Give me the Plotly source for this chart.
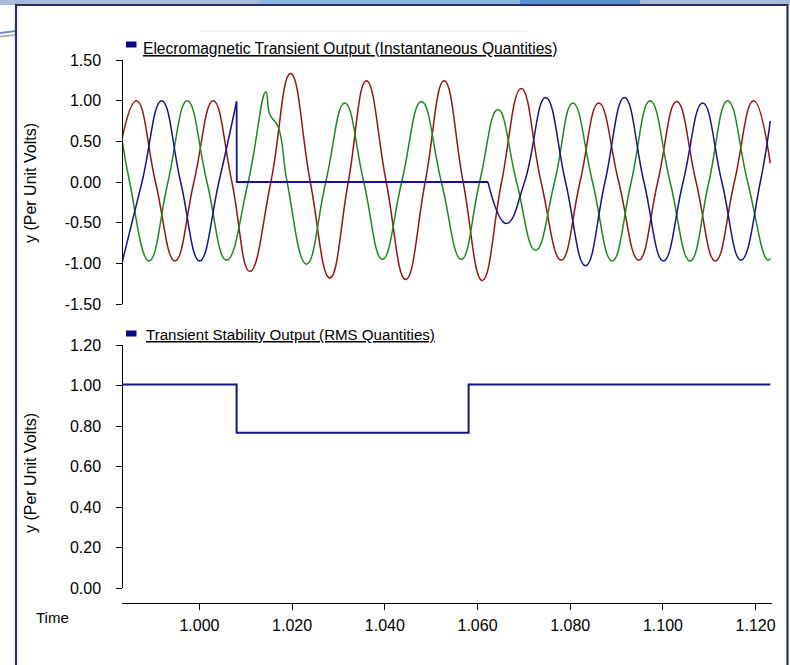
import plotly.graph_objects as go

W, H = 790, 665

# ---------------- data ----------------
# Phase A (blue): before fault, during fault (zero), after clearing
blue_pre_t = [0.98336, 0.98761, 0.99185, 0.99595, 1.00004, 1.00420, 1.00802]
blue_pre_v = [-0.98, 0.0, 1.00, 0.0, -0.97, 0.0, 0.99]
blue_flt_t = [1.00802, 1.00806, 1.06224]
blue_flt_v = [0.99, 0.0, 0.0]
blue_post_t = [1.06224, 1.06621, 1.07015, 1.07468, 1.07899, 1.08330, 1.08750,
               1.09170, 1.09591, 1.10011, 1.10435, 1.10858, 1.11272, 1.11685,
               1.12101, 1.12317]
blue_post_v = [0.0, -0.51, 0.0, 1.04, 0.0, -1.03, 0.0, 1.04, 0.0, -0.97, 0.0,
               0.97, 0.0, -0.96, 0.0, 0.75]

# Phase B (red)
red_t = [0.98336, 0.98642, 0.99052, 0.99472, 0.99881, 1.00297, 1.00700, 1.01088,
         1.01541, 1.01966, 1.02392, 1.02813, 1.03211, 1.03603, 1.04030, 1.04450,
         1.04871, 1.05280, 1.05690, 1.06103, 1.06519, 1.06944, 1.07371, 1.07806,
         1.08211, 1.08616, 1.09047, 1.09478, 1.09888, 1.10297, 1.10716, 1.11131,
         1.11541, 1.11957, 1.12317]
red_v = [0.55, 1.00, 0.0, -0.97, 0.0, 1.00, 0.0, -1.10, 0.0, 1.335, 0.0, -1.18,
         0.0, 1.245, 0.0, -1.20, 0.0, 1.245, 0.0, -1.21, 0.0, 1.15, 0.0, -0.96,
         0.0, 0.97, 0.0, -0.96, 0.0, 0.99, 0.0, -0.97, 0.0, 1.00, 0.23]

# Phase C (green)
green_t = [0.98336, 0.98494, 0.98912, 0.99321, 0.99737, 1.00162, 1.00586, 1.01052,
           1.01433, 1.01519, 1.01698, 1.01892, 1.02310, 1.02726, 1.03136, 1.03545,
           1.03948, 1.04364, 1.04789, 1.05220, 1.05651, 1.06045, 1.06440, 1.06843,
           1.07252, 1.07662, 1.08056, 1.08481, 1.08905, 1.09315, 1.09724, 1.10155,
           1.10586, 1.10991, 1.11397, 1.11828, 1.12259, 1.12317]
green_v = [0.50, 0.0, -0.97, 0.0, 1.00, 0.0, -0.96, 0.0, 1.11, 0.83, 0.68, 0.0,
           -1.01, 0.0, 0.97, 0.0, -0.95, 0.0, 0.99, 0.0, -0.95, 0.0, 0.89, 0.0,
           -0.84, 0.0, 0.97, 0.0, -0.97, 0.0, 1.00, 0.0, -0.97, 0.0, 1.00, 0.0,
           -0.96, -0.94]

# RMS (transient stability) output
rms_t = [0.98336, 1.00802, 1.00802, 1.05808, 1.05808, 1.12317]
rms_v = [1.005, 1.005, 0.767, 0.767, 1.005, 1.005]

# ticks
top_tickvals = [1.5, 1.0, 0.5, 0.0, -0.5, -1.0, -1.5]
top_ticktext = ["1.50", "1.00", "0.50", "0.00", "-0.50", "-1.00", "-1.50"]
bot_tickvals = [1.2, 1.0, 0.8, 0.6, 0.4, 0.2, 0.0]
bot_ticktext = ["1.20", "1.00", "0.80", "0.60", "0.40", "0.20", "0.00"]
x_tickvals = [1.00, 1.02, 1.04, 1.06, 1.08, 1.10, 1.12]
x_ticktext = ["1.000", "1.020", "1.040", "1.060", "1.080", "1.100", "1.120"]

legend_top = "Elecromagnetic Transient Output (Instantaneous Quantities)"
legend_bot = "Transient Stability Output (RMS Quantities)"
y_title = "y (Per Unit Volts)"
x_title = "Time"

# ---------------- figure ----------------
BLUE = "#14148c"
RED = "#961414"
GREEN = "#1a8a1a"
FONT = "Liberation Sans, Arial, sans-serif"

def px(x):
    return x / W

def py(y):
    return 1 - y / H

fig = go.Figure()

SM = 1.3
wave = dict(xaxis="x", yaxis="y", mode="lines", showlegend=False, hoverinfo="skip")
fig.add_trace(go.Scatter(x=red_t, y=red_v, line=dict(color=RED, width=1.5, shape="spline", smoothing=SM), **wave))
fig.add_trace(go.Scatter(x=green_t, y=green_v, line=dict(color=GREEN, width=1.5, shape="spline", smoothing=SM), **wave))
fig.add_trace(go.Scatter(x=blue_pre_t, y=blue_pre_v, line=dict(color=BLUE, width=1.5, shape="spline", smoothing=SM), **wave))
fig.add_trace(go.Scatter(x=blue_flt_t, y=blue_flt_v, line=dict(color=BLUE, width=1.8), **wave))
fig.add_trace(go.Scatter(x=blue_post_t, y=blue_post_v, line=dict(color=BLUE, width=1.5, shape="spline", smoothing=SM), **wave))

fig.add_trace(go.Scatter(x=rms_t, y=rms_v, xaxis="x2", yaxis="y2", mode="lines",
                         line=dict(color=BLUE, width=2), showlegend=False, hoverinfo="skip"))

XR = [0.98336, 1.12347]
XDOM = [px(122.3), px(771.7)]
tickfont = dict(family=FONT, size=16, color="black")

fig.update_layout(
    width=W, height=H,
    margin=dict(l=0, r=0, t=0, b=0, autoexpand=False),
    paper_bgcolor="white", plot_bgcolor="white",
    xaxis=dict(domain=XDOM, range=XR, anchor="y", visible=False),
    yaxis=dict(domain=[py(304), py(60)], range=[-1.5, 1.5], anchor="free", position=XDOM[0],
               tickvals=top_tickvals, ticktext=top_ticktext, ticks="outside", ticklen=6,
               tickcolor="black", showline=True, linecolor="black", linewidth=1,
               showgrid=False, zeroline=False, tickfont=tickfont, ticklabelstandoff=12),
    xaxis2=dict(domain=XDOM, range=XR, anchor="free", position=py(603),
                tickvals=x_tickvals, ticktext=x_ticktext, ticks="outside", ticklen=6,
                tickcolor="black", showline=True, linecolor="black", linewidth=1,
                showgrid=False, zeroline=False, tickfont=tickfont, ticklabelstandoff=2),
    yaxis2=dict(domain=[py(588), py(345)], range=[0, 1.2], anchor="free", position=XDOM[0],
                tickvals=bot_tickvals, ticktext=bot_ticktext, ticks="outside", ticklen=6,
                tickcolor="black", showline=True, linecolor="black", linewidth=1,
                showgrid=False, zeroline=False, tickfont=tickfont, ticklabelstandoff=12),
)

shapes = []
# slide decoration: top band
shapes.append(dict(type="rect", xref="paper", yref="paper", x0=0, x1=1, y0=py(5), y1=1,
                   fillcolor="#a6bcd8", line=dict(width=0), layer="above"))
shapes.append(dict(type="rect", xref="paper", yref="paper", x0=px(260), x1=px(520), y0=py(5), y1=1,
                   fillcolor="#8cb6e6", line=dict(width=0), layer="above"))
shapes.append(dict(type="rect", xref="paper", yref="paper", x0=px(520), x1=px(640), y0=py(5), y1=1,
                   fillcolor="#5a8fcf", line=dict(width=0), layer="above"))
# left swooshes outside the frame
shapes.append(dict(type="line", xref="paper", yref="paper", x0=0, x1=px(16), y0=py(33), y1=py(31),
                   line=dict(color="#6d8fc8", width=2)))
shapes.append(dict(type="line", xref="paper", yref="paper", x0=0, x1=px(16), y0=py(36.5), y1=py(35),
                   line=dict(color="#b0b4bc", width=2)))
# frame
shapes.append(dict(type="path", xref="paper", yref="paper",
                   path=f"M {px(16)},0 L {px(16)},{py(5)} L {px(787.5)},{py(5)} L {px(787.5)},0",
                   line=dict(color="#2b2e5e", width=2.2)))
# faint line near top
shapes.append(dict(type="line", xref="paper", yref="paper", x0=px(200), x1=px(527), y0=py(31), y1=py(31),
                   line=dict(color="#f1f1f1", width=1.5)))
# legend markers
shapes.append(dict(type="rect", xref="paper", yref="paper", x0=px(126), x1=px(136.5), y0=py(47.5), y1=py(41.5),
                   fillcolor="#0a0a80", line=dict(width=0)))
shapes.append(dict(type="rect", xref="paper", yref="paper", x0=px(126), x1=px(136.5), y0=py(336.5), y1=py(330.5),
                   fillcolor="#0a0a80", line=dict(width=0)))
fig.update_layout(shapes=shapes)

ann = []
ann.append(dict(xref="paper", yref="paper", x=px(140.5), y=py(48), xanchor="left", yanchor="middle",
                text=f"<u>{legend_top}</u>", showarrow=False,
                font=dict(family=FONT, size=15.6, color="black")))
ann.append(dict(xref="paper", yref="paper", x=px(143.5), y=py(334), xanchor="left", yanchor="middle",
                text=f"<u>{legend_bot}</u>", showarrow=False,
                font=dict(family=FONT, size=15.1, color="black")))
ann.append(dict(xref="paper", yref="paper", x=px(30), y=py(183), xanchor="center", yanchor="middle",
                text=y_title, textangle=-90, showarrow=False,
                font=dict(family=FONT, size=16, color="black")))
ann.append(dict(xref="paper", yref="paper", x=px(30), y=py(473), xanchor="center", yanchor="middle",
                text=y_title, textangle=-90, showarrow=False,
                font=dict(family=FONT, size=16, color="black")))
ann.append(dict(xref="paper", yref="paper", x=px(34), y=py(617), xanchor="left", yanchor="middle",
                text=x_title, showarrow=False,
                font=dict(family=FONT, size=15, color="black")))
fig.update_layout(annotations=ann)

fig.write_html(
    "out.html",
    config={"displayModeBar": False},
    post_script="document.body.style.margin='0';document.body.style.padding='0';"
                "document.body.style.overflow='hidden';",
)
